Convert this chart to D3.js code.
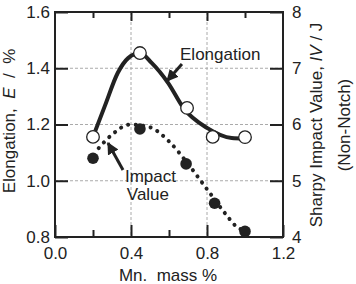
<!DOCTYPE html>
<html>
<head>
<meta charset="utf-8">
<script src="https://cdn.jsdelivr.net/npm/d3@7"></script>
<style>
  body { margin: 0; background: #fff; }
  svg { display: block; font-family: "Liberation Sans", Arial, sans-serif; }
</style>
</head>
<body>
<svg id="chart"></svg>
<script>
// measured points
const mnElong = [0.2, 0.447, 0.695, 0.83, 1.0];
const elongation = [1.156, 1.454, 1.259, 1.156, 1.155];
const mnImpact = [0.2, 0.447, 0.69, 0.84, 1.0];
const impact = [5.4, 5.92, 5.3, 4.6, 4.1];

// fitted curves as drawn
const elongFitX = [0.2, 0.263, 0.33, 0.385, 0.447, 0.51, 0.595, 0.68, 0.8, 0.93, 1.0];
const elongFitY = [1.156, 1.267, 1.383, 1.436, 1.454, 1.418, 1.348, 1.255, 1.188, 1.152, 1.15];
const impactFitX = [0.23, 0.3, 0.395, 0.5, 0.6, 0.7, 0.8, 0.9, 0.95, 1.0];
const impactFitY = [5.58, 5.82, 6.0, 5.95, 5.7, 5.3, 4.85, 4.4, 4.2, 4.1];

const xTicks = [0.0, 0.4, 0.8, 1.2];
const xMinor = [0.2, 0.6, 1.0];
const yLeftTicks = [0.8, 1.0, 1.2, 1.4, 1.6];
const yRightTicks = [4, 5, 6, 7, 8];

const width = 356, height = 284;
const margin = {top: 12, right: 73, bottom: 47, left: 55};
const iw = width - margin.left - margin.right;
const ih = height - margin.top - margin.bottom;
const ink = "#222";

const svg = d3.select("#chart").attr("width", width).attr("height", height);
const g = svg.append("g").attr("transform", `translate(${margin.left},${margin.top})`);

const x = d3.scaleLinear().domain([0, 1.2]).range([0, iw]);
const yL = d3.scaleLinear().domain([0.8, 1.6]).range([ih, 0]);
const yR = d3.scaleLinear().domain([4, 8]).range([ih, 0]);

// grid
g.append("g").selectAll("line").data([0.4, 0.8]).join("line")
  .attr("x1", d => x(d)).attr("x2", d => x(d)).attr("y1", 0).attr("y2", ih)
  .attr("stroke", "#aaa").attr("stroke-width", 1).attr("stroke-dasharray", "3,2");
g.append("g").selectAll("line").data([1.0, 1.2, 1.4]).join("line")
  .attr("x1", 0).attr("x2", iw).attr("y1", d => yL(d)).attr("y2", d => yL(d))
  .attr("stroke", "#aaa").attr("stroke-width", 1).attr("stroke-dasharray", "3,2");

function styleAxis(sel) {
  sel.select(".domain").remove();
  sel.selectAll(".tick line").attr("stroke", ink).attr("stroke-width", 2);
  sel.selectAll(".tick text").attr("fill", ink).attr("font-size", 17);
}

// axes
g.append("g").attr("transform", `translate(0,${ih})`)
  .call(d3.axisBottom(x).tickValues(xTicks).tickSize(-12).tickPadding(10).tickFormat(d3.format(".1f")))
  .call(styleAxis);
g.append("g").attr("transform", `translate(0,${ih})`)
  .call(d3.axisBottom(x).tickValues(xMinor).tickSize(-7).tickFormat(""))
  .call(styleAxis);
g.append("g")
  .call(d3.axisTop(x).tickValues([0.4, 0.8]).tickSize(-9).tickFormat(""))
  .call(styleAxis);
g.append("g")
  .call(d3.axisTop(x).tickValues(xMinor).tickSize(-6).tickFormat(""))
  .call(styleAxis);
g.append("g")
  .call(d3.axisLeft(yL).tickValues(yLeftTicks).tickSize(-13).tickPadding(5).tickFormat(d3.format(".1f")))
  .call(styleAxis);
g.append("g").attr("transform", `translate(${iw},0)`)
  .call(d3.axisRight(yR).tickValues(yRightTicks).tickSize(-13).tickPadding(9).tickFormat(d3.format("d")))
  .call(styleAxis);

// frame
g.append("rect").attr("width", iw).attr("height", ih)
  .attr("fill", "none").attr("stroke", ink).attr("stroke-width", 2);

// curves
const elongLine = d3.line().x(d => x(d[0])).y(d => yL(d[1])).curve(d3.curveMonotoneX);
g.append("path").datum(d3.zip(elongFitX, elongFitY))
  .attr("d", elongLine).attr("fill", "none").attr("stroke", ink).attr("stroke-width", 4);

const impactLine = d3.line().x(d => x(d[0])).y(d => yR(d[1])).curve(d3.curveMonotoneX);
g.append("path").datum(d3.zip(impactFitX, impactFitY))
  .attr("d", impactLine).attr("fill", "none").attr("stroke", ink).attr("stroke-width", 4)
  .attr("stroke-linecap", "round").attr("stroke-dasharray", "0.1 7.5");

// markers
g.append("g").selectAll("circle").data(d3.zip(mnImpact, impact)).join("circle")
  .attr("cx", d => x(d[0])).attr("cy", d => yR(d[1])).attr("r", 5.8).attr("fill", ink);
g.append("g").selectAll("circle").data(d3.zip(mnElong, elongation)).join("circle")
  .attr("cx", d => x(d[0])).attr("cy", d => yL(d[1])).attr("r", 6.3)
  .attr("fill", "#fff").attr("stroke", ink).attr("stroke-width", 1.3);

// annotations
svg.append("defs").append("marker")
  .attr("id", "head").attr("viewBox", "0 0 10 10").attr("refX", 9).attr("refY", 5)
  .attr("markerWidth", 4).attr("markerHeight", 4).attr("orient", "auto")
  .append("path").attr("d", "M0,0L10,5L0,10Z").attr("fill", ink);

g.append("line")
  .attr("x1", x(0.668)).attr("y1", yL(1.415)).attr("x2", x(0.59)).attr("y2", yL(1.355))
  .attr("stroke", ink).attr("stroke-width", 3).attr("marker-end", "url(#head)");
g.append("text").attr("x", x(0.658)).attr("y", yL(1.43))
  .attr("font-size", 17).attr("fill", ink).text("Elongation");

g.append("line")
  .attr("x1", x(0.358)).attr("y1", yR(5.19)).attr("x2", x(0.279)).attr("y2", yR(5.67))
  .attr("stroke", ink).attr("stroke-width", 3).attr("marker-end", "url(#head)");
const imp = g.append("text").attr("font-size", 17).attr("fill", ink);
imp.append("tspan").attr("x", x(0.368)).attr("y", yR(4.98)).text("Impact");
imp.append("tspan").attr("x", x(0.378)).attr("y", yR(4.66)).text("Value");

// axis titles
svg.append("text").attr("x", margin.left + iw / 2 - 1).attr("y", 281)
  .attr("text-anchor", "middle").attr("font-size", 17).attr("fill", ink)
  .attr("xml:space", "preserve").text("Mn.  mass %");

const lt = svg.append("text").attr("transform", "translate(15,121) rotate(-90)")
  .attr("text-anchor", "middle").attr("font-size", 17).attr("fill", ink)
  .attr("xml:space", "preserve");
lt.append("tspan").text("Elongation,  ");
lt.append("tspan").attr("font-style", "italic").text("E");
lt.append("tspan").text("  /  %");

const rt = svg.append("text").attr("transform", "translate(322,125) rotate(-90)")
  .attr("text-anchor", "middle").attr("font-size", 17).attr("fill", ink);
rt.append("tspan").text("Sharpy Impact Value, ");
rt.append("tspan").attr("font-style", "italic").text("IV");
rt.append("tspan").text(" / J");
svg.append("text").attr("transform", "translate(350,125) rotate(-90)")
  .attr("text-anchor", "middle").attr("font-size", 17).attr("fill", ink).text("(Non-Notch)");
</script>
</body>
</html>
